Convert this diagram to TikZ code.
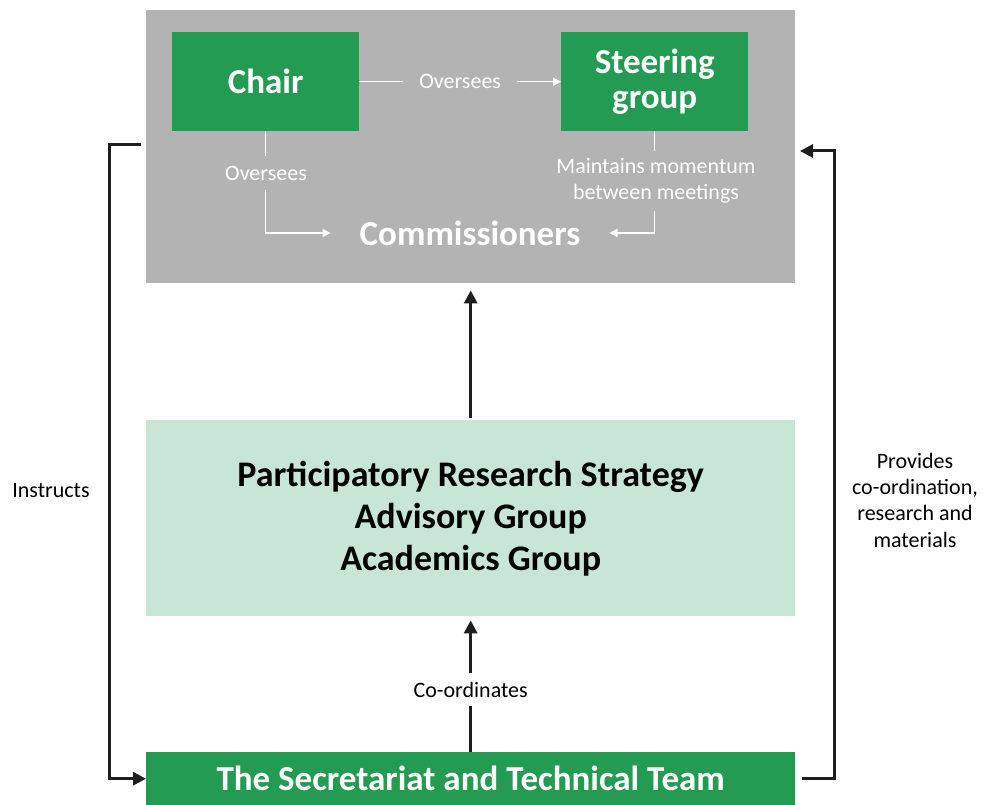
\documentclass[tikz,border=0pt]{standalone}
\usepackage{fontspec}
\setmainfont{Carlito}
\usetikzlibrary{arrows.meta}
\definecolor{cgreen}{RGB}{35,155,82}
\definecolor{cgray}{RGB}{179,179,179}
\definecolor{cmint}{RGB}{200,230,214}
\definecolor{cdark}{RGB}{30,30,30}
\tikzset{
  greenbox/.style={fill=cgreen, text=white, font=\bfseries\fontsize{35}{35}\selectfont, align=center, inner sep=0pt},
  wline/.style={draw=white, line width=1.5pt},
  warrow/.style={wline, -{Triangle[width=8pt,length=8pt]}},
  bline/.style={draw=cdark, line width=3pt},
  barrow/.style={bline, -{Triangle[width=13pt,length=13pt]}},
  wlabel/.style={fill=cgray, text=white, font=\fontsize{22}{26}\selectfont, align=center},
  blabel/.style={text=black, font=\fontsize{22}{26.3}\selectfont, align=center},
}
\begin{document}
\begin{tikzpicture}[x=1pt,y=-1pt]
\useasboundingbox (0,0) rectangle (995,805);
% gray panel
\node[fill=cgray, minimum width=649pt, minimum height=273pt, inner sep=0pt, anchor=north west] (panel) at (146,10) {};
\node[greenbox, minimum width=187pt, minimum height=99pt, anchor=north west] (chair) at (172,32) {Chair};
\node[greenbox, minimum width=187pt, minimum height=99pt, anchor=north west] (steer) at (561,32) {Steering\\group};
\node[text=white, font=\bfseries\fontsize{35}{35}\selectfont, inner xsep=29pt, inner ysep=4pt] (comm) at (470,233) {Commissioners};
% white connectors
\draw[warrow] (chair.east) -- node[wlabel, inner xsep=16pt] {Oversees} (steer.west);
\draw[warrow] (chair.south) |- (comm.west);
\node[wlabel, inner ysep=10pt, inner xsep=3pt] (ov2) at (266,173) {Oversees};
\draw[warrow] (steer.south) |- (comm.east);
\node[wlabel, inner ysep=8pt, inner xsep=3pt] (mm) at (656,181) {Maintains momentum\\between meetings};
% mint box
\node[fill=cmint, minimum width=649pt, minimum height=196pt, inner sep=0pt, anchor=north west, font=\bfseries\fontsize{36}{42}\selectfont, align=center] (mint) at (146,420) {Participatory Research Strategy\\Advisory Group\\Academics Group};
% secretariat
\node[fill=cgreen, text=white, font=\bfseries\fontsize{35}{35}\selectfont, minimum width=649pt, minimum height=53pt, inner sep=0pt, anchor=north west] (secr) at (146,752) {The Secretariat and Technical Team};
% black arrows
\draw[barrow, shorten <=2pt, shorten >=7pt] (mint.north) -- (panel.south);
\draw[barrow, shorten >=4pt] (secr.north) -- node[pos=0.46, fill=white, blabel, inner ysep=9pt] {Co-ordinates} (mint.south);
\coordinate (instrStart) at (141,145);
\draw[barrow, line join=miter] (instrStart) -- (109,145) |- (secr.west);
\node[blabel] (instr) at (51,491) {Instructs};
\coordinate (provEnd) at (800,151);
\draw[barrow, line join=miter] ([xshift=7pt]secr.east) -| (834,151) -- (provEnd);
\node[blabel] (prov) at (915,500) {Provides\\co-ordination,\\research and\\materials};
\end{tikzpicture}
\end{document}
